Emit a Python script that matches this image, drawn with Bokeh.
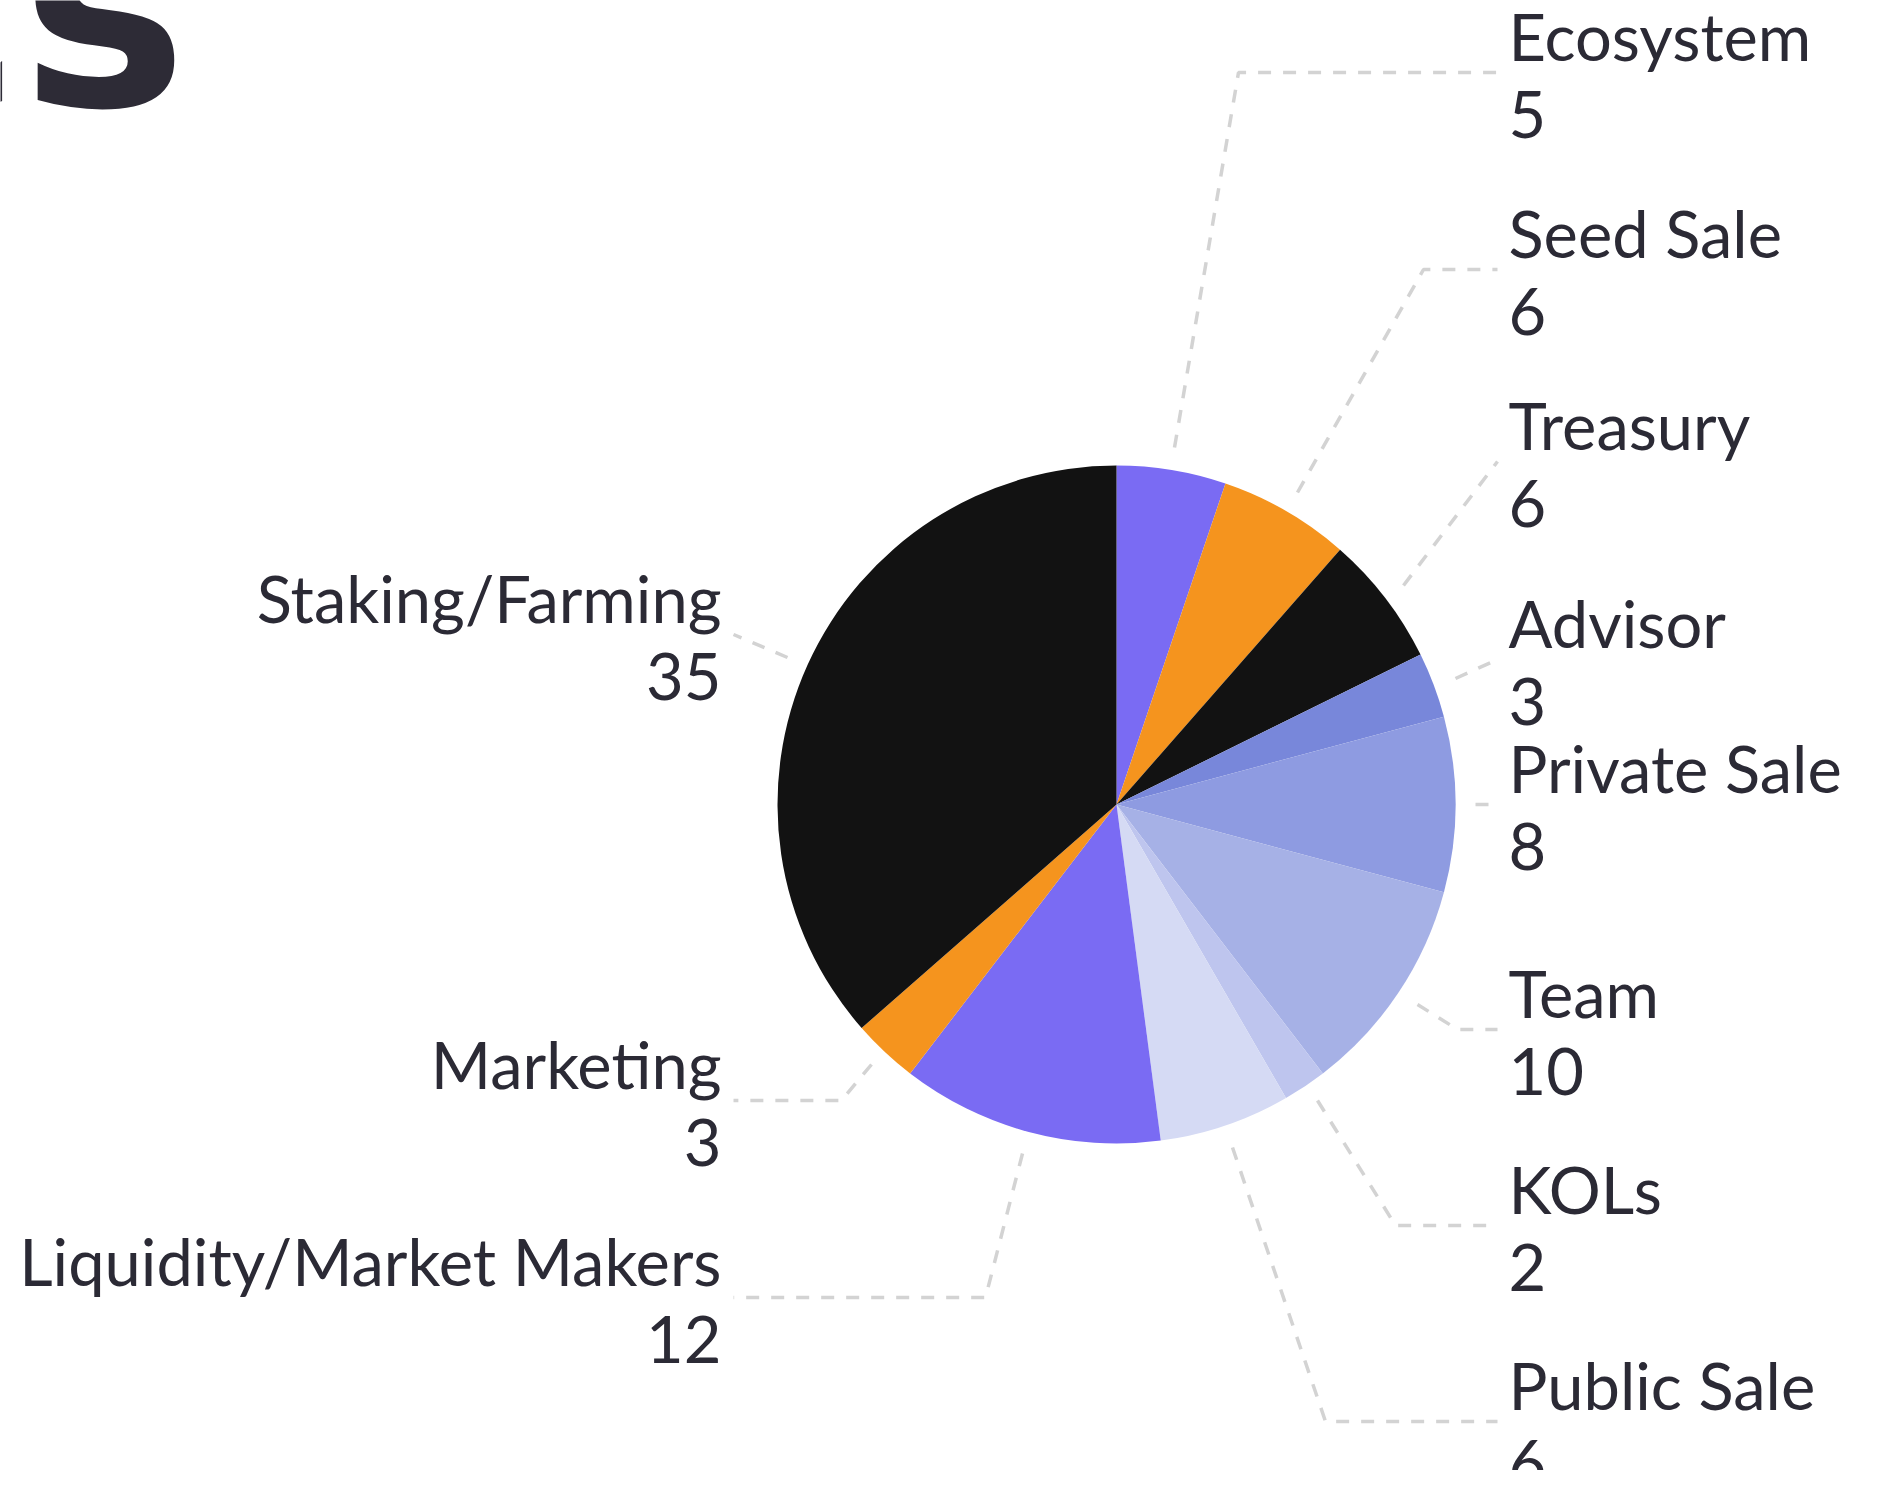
import math
from bokeh.plotting import figure
from bokeh.models import Range1d, ColumnDataSource
from bokeh.core.properties import value
from bokeh.embed import file_html
from bokeh.resources import INLINE

# ---------------- DATA ----------------
categories = ["Ecosystem", "Seed Sale", "Treasury", "Advisor", "Private Sale",
              "Team", "KOLs", "Public Sale", "Liquidity/Market Makers",
              "Marketing", "Staking/Farming"]
values = [5, 6, 6, 3, 8, 10, 2, 6, 12, 3, 35]
title_text = "Tokenomics"

# ---------------- STYLE ----------------
colors = ["#7A6BF3", "#F5941E", "#121212", "#7887DA", "#8E9BE1",
          "#A6B1E6", "#BEC5EE", "#D5DAF4", "#7A6BF3", "#F5941E", "#121212"]
TEXT_COLOR = "#2B2A35"
LINE_COLOR = "#D3D3D3"

# ---------------- LAYOUT (picture pixels) ----------------
W, H = 1867, 1470
CX, CY, R = 1116, 804, 339
label_side = ["right"] * 8 + ["left"] * 3
label_y = [72, 269, 461, 659, 804, 1029, 1225, 1421, 1297, 1100, 634]
RIGHT_X, LEFT_X = 1508, 721
RIGHT_END, LEFT_END = 1497, 733
NAME_DY, VALUE_DY = -37, 42          # text anchor offsets from connector y
# connector start and elbow points (start near slice edge, elbow before label)
conn_start = [(1174, 447), (1297, 492), (1403, 585), (1455, 678), (1475, 804),
              (1417, 1004), (1317, 1100), (1232, 1147), (1022, 1153),
              (871, 1064), (787, 657)]
conn_elbow = [(1238, 72), (1423, 269), None, None, None,
              (1457, 1029), (1395, 1225), (1325, 1421), (985, 1297),
              (841, 1100), None]

# ---------------- FIGURE ----------------
p = figure(width=W, height=H,
           x_range=Range1d(0, W), y_range=Range1d(-H, 0),
           output_backend="svg", toolbar_location=None, min_border=0)
p.axis.visible = False
p.grid.visible = False
p.outline_line_color = None
p.background_fill_color = "white"
p.border_fill_color = "white"

# pie wedges (clockwise from 12 o'clock)
total = float(sum(values))
starts, ends = [], []
cum = 0.0
for v in values:
    starts.append(math.pi / 2 - 2 * math.pi * cum / total)
    cum += v
    ends.append(math.pi / 2 - 2 * math.pi * cum / total)

src = ColumnDataSource(dict(start=starts, end=ends, color=colors,
                            cat=categories, val=values))
p.wedge(x=CX, y=-CY, radius=R, start_angle="start", end_angle="end",
        direction="clock", fill_color="color", line_color=None, source=src)

# connectors
xs, ys = [], []
for i, side in enumerate(label_side):
    sx, sy = conn_start[i]
    ex = RIGHT_END if side == "right" else LEFT_END
    ey = label_y[i]
    px, py = [sx], [sy]
    if conn_elbow[i] is not None:
        px.append(conn_elbow[i][0]); py.append(conn_elbow[i][1])
    px.append(ex); py.append(ey)
    xs.append(px); ys.append([-y for y in py])
p.multi_line(xs=xs, ys=ys, line_color=LINE_COLOR, line_width=3.5, line_dash="13 12")

# labels
for side, align, lx in (("right", "left", RIGHT_X), ("left", "right", LEFT_X)):
    idx = [i for i, s in enumerate(label_side) if s == side]
    p.text(x=[lx] * len(idx), y=[-(label_y[i] + NAME_DY) for i in idx],
           text=[categories[i] for i in idx],
           text_font=value("Lato"), text_font_size="65px", text_color=TEXT_COLOR,
           text_align=align, text_baseline="alphabetic")
    p.text(x=[lx] * len(idx), y=[-(label_y[i] + VALUE_DY) for i in idx],
           text=[str(values[i]) for i in idx],
           text_font=value("Lato"), text_font_size="65px", text_color=TEXT_COLOR,
           text_align=align, text_baseline="alphabetic")

# clipped title at top-left
p.text(x=[187], y=[-8], text=[title_text], text_font=value("DejaVu Sans"),
       text_font_style="bold", text_font_size="280px", text_color="#2D2B36",
       text_align="right", text_baseline="alphabetic")

open("out.html", "w").write(file_html(p, INLINE))
